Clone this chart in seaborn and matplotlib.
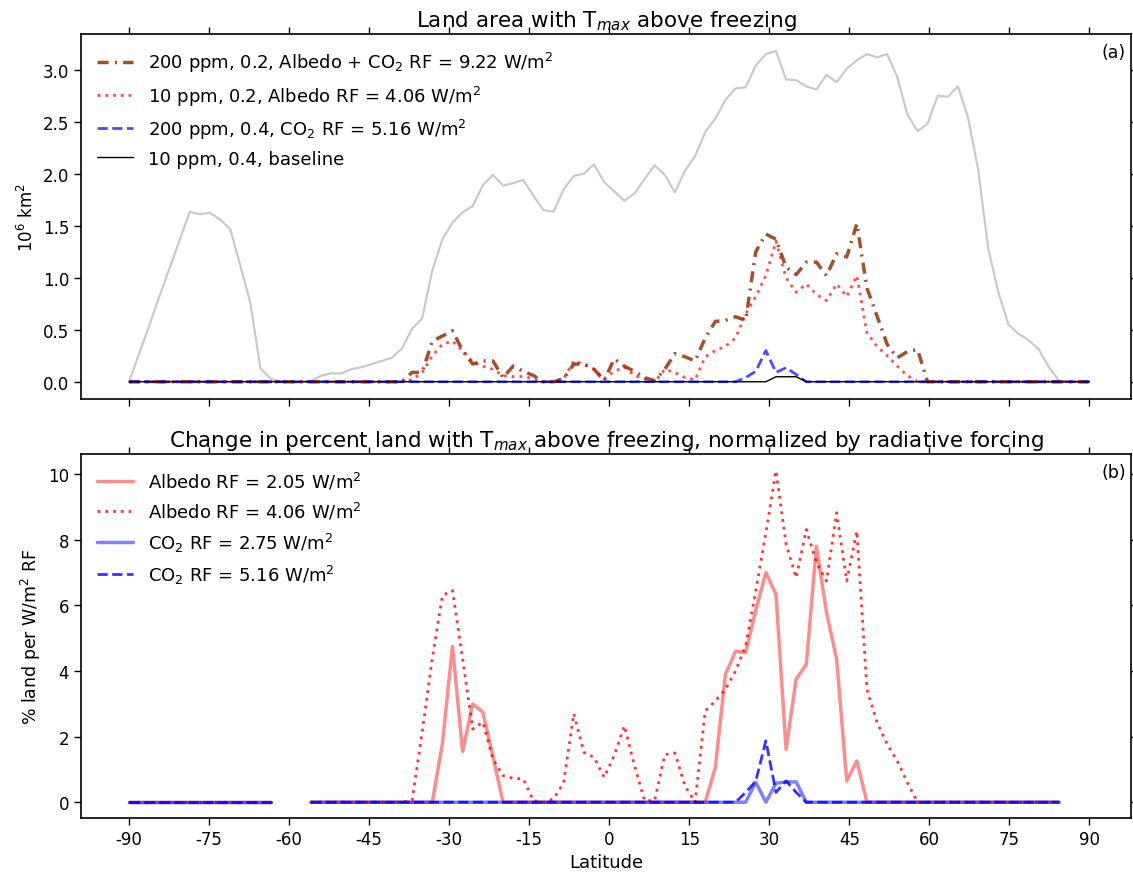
import numpy as np
import pandas as pd
import matplotlib
matplotlib.use("Agg")
import matplotlib.pyplot as plt
import seaborn as sns

# latitude grid (96 points, pole to pole)
lat = np.linspace(-90, 90, 96)

# land area (10^6 km^2), grey reference curve
land_area = [0.0, 0.27, 0.54, 0.82, 1.09, 1.36, 1.635, 1.61, 1.625, 1.56,
             1.47, 1.12, 0.76, 0.13, 0.03, 0.0, 0.0, 0.0, 0.01, 0.058,
             0.08, 0.08, 0.12, 0.14, 0.17, 0.20, 0.23, 0.32, 0.51, 0.61,
             1.07, 1.37, 1.53, 1.63, 1.69, 1.89, 1.99, 1.885, 1.91, 1.94,
             1.79, 1.65, 1.635, 1.85, 1.98, 2.00, 2.09, 1.92, 1.83, 1.74,
             1.81, 1.95, 2.08, 1.99, 1.82, 2.03, 2.17, 2.40, 2.53, 2.71,
             2.82, 2.83, 3.04, 3.15, 3.18, 2.905, 2.90, 2.84, 2.81, 2.95,
             2.88, 3.01, 3.09, 3.15, 3.12, 3.15, 2.93, 2.57, 2.41, 2.48,
             2.75, 2.74, 2.84, 2.54, 2.04, 1.28, 0.86, 0.55, 0.46, 0.40,
             0.31, 0.14, 0.01, 0.0, 0.0, 0.0]

# land area with Tmax above freezing (10^6 km^2); index -> value, zero elsewhere
area_200_02 = {28: 0.09, 29: 0.09, 30: 0.39, 31: 0.44, 32: 0.49, 33: 0.30, 34: 0.17,
               35: 0.20, 36: 0.20, 37: 0.04, 38: 0.15, 39: 0.10, 40: 0.06, 43: 0.03,
               44: 0.17, 45: 0.17, 46: 0.12, 47: 0.01, 48: 0.22, 49: 0.15, 50: 0.10,
               51: 0.04, 52: 0.01, 53: 0.12, 54: 0.27, 55: 0.24, 56: 0.20, 57: 0.42,
               58: 0.58, 59: 0.59, 60: 0.625, 61: 0.59, 62: 1.25, 63: 1.42, 64: 1.37,
               65: 1.10, 66: 1.03, 67: 1.15, 68: 1.15, 69: 1.02, 70: 1.23, 71: 1.20,
               72: 1.52, 73: 0.90, 74: 0.63, 75: 0.36, 76: 0.23, 77: 0.29, 78: 0.31}
area_10_02 = {28: 0.02, 29: 0.09, 30: 0.25, 31: 0.36, 32: 0.39, 33: 0.30, 34: 0.19,
              35: 0.15, 36: 0.12, 37: 0.06, 38: 0.05, 39: 0.05, 40: 0.03, 43: 0.03,
              44: 0.20, 45: 0.17, 46: 0.12, 47: 0.03, 48: 0.10, 49: 0.14, 50: 0.06,
              51: 0.03, 53: 0.12, 54: 0.09, 55: 0.04, 56: 0.02, 57: 0.24, 58: 0.30,
              59: 0.34, 60: 0.42, 61: 0.65, 62: 0.82, 63: 1.02, 64: 1.35, 65: 1.00,
              66: 0.86, 67: 0.94, 68: 0.84, 69: 0.78, 70: 0.94, 71: 0.82, 72: 1.02,
              73: 0.47, 74: 0.34, 75: 0.25, 76: 0.15, 77: 0.06}
area_200_04 = {61: 0.04, 62: 0.10, 63: 0.30, 64: 0.09, 65: 0.135, 66: 0.07}
area_10_04 = {64: 0.048, 65: 0.048, 66: 0.048}

# percent land per W/m2 RF
pct_alb_205 = {31: 1.78, 32: 4.75, 33: 1.54, 34: 3.0, 35: 2.74, 36: 1.4, 58: 1.06,
               59: 3.9, 60: 4.6, 61: 4.56, 62: 5.85, 63: 7.0, 64: 6.33, 65: 1.61,
               66: 3.75, 67: 4.2, 68: 7.8, 69: 5.78, 70: 4.36, 71: 0.65, 72: 1.26}
pct_alb_406 = {28: 0.05, 29: 2.13, 30: 4.37, 31: 6.3, 32: 6.45, 33: 4.37, 34: 2.23,
               35: 2.44, 36: 1.32, 37: 0.81, 38: 0.73, 39: 0.71, 40: 0.05, 42: 0.1,
               43: 0.6, 44: 2.7, 45: 1.52, 46: 1.37, 47: 0.76, 48: 1.42, 49: 2.33,
               50: 1.12, 51: 0.05, 52: 0.05, 53: 1.45, 54: 1.5, 55: 0.5, 57: 2.78,
               58: 3.09, 59: 3.44, 60: 4.0, 61: 4.76, 62: 6.44, 63: 8.2, 64: 10.1,
               65: 7.86, 66: 6.84, 67: 8.31, 68: 7.3, 69: 6.74, 70: 8.82, 71: 6.74,
               72: 8.26, 73: 3.44, 74: 2.43, 75: 1.77, 76: 1.26, 77: 0.6}
pct_co2_275 = {62: 0.61, 64: 0.58, 65: 0.62, 66: 0.62}
pct_co2_516 = {61: 0.3, 62: 0.64, 63: 1.87, 64: 0.3, 65: 0.65, 66: 0.3}

# segments of the bottom panel where land exists (no land -> gap)
segments = [(0, 14), (18, 92)]
xticks = list(range(-90, 91, 15))


def full(d):
    v = np.zeros(len(lat))
    for k, val in d.items():
        v[k] = val
    return v


sns.set_style("ticks")
plt.rcParams['font.family'] = ['DejaVu Sans']
plt.rcParams['mathtext.fontset'] = 'dejavusans'
for key in ['text.color', 'axes.labelcolor', 'xtick.color', 'ytick.color', 'axes.edgecolor']:
    plt.rcParams[key] = 'black'

fig = plt.figure(figsize=(11.33, 8.78), dpi=100)
ax1 = fig.add_axes([0.0715, 0.5444, 0.9267, 0.4157])
ax2 = fig.add_axes([0.0715, 0.0672, 0.9267, 0.4146])

# ---- panel (a)
sns.lineplot(x=lat, y=land_area, ax=ax1, color='0.78', lw=1.5)
sns.lineplot(x=lat, y=full(area_200_02), ax=ax1, color='sienna', lw=2.5,
             linestyle=(0, (3.2, 1.8, 0.6, 1.8)),
             label='200 ppm, 0.2, Albedo + CO$_2$ RF = 9.22 W/m$^2$')
sns.lineplot(x=lat, y=full(area_10_02), ax=ax1, color='red', alpha=0.7, lw=2,
             linestyle=(0, (1, 1.8)), label='10 ppm, 0.2, Albedo RF = 4.06 W/m$^2$')
sns.lineplot(x=lat, y=full(area_200_04), ax=ax1, color='blue', alpha=0.7, lw=2,
             linestyle='--', label='200 ppm, 0.4, CO$_2$ RF = 5.16 W/m$^2$')
sns.lineplot(x=lat, y=full(area_10_04), ax=ax1, color='black', lw=1,
             label='10 ppm, 0.4, baseline')
ax1.legend(loc='upper left', frameon=False, fontsize=13)
ax1.set_title('Land area with T$_{max}$ above freezing', fontsize=15.5)
ax1.set_ylabel('10$^6$ km$^2$', fontsize=12)
ax1.set_xlim(-99, 97.8)
ax1.set_ylim(-0.166, 3.343)
ax1.set_xticks(xticks)
ax1.set_xticklabels([])
ax1.set_yticks(np.arange(0, 3.01, 0.5))
ax1.set_yticklabels([f'{t:.1f}' for t in np.arange(0, 3.01, 0.5)])
ax1.text(0.995, 0.975, '(a)', transform=ax1.transAxes, ha='right', va='top', fontsize=12.5)

# ---- panel (b)
series_b = [
    (pct_alb_205, dict(color='red', alpha=0.45, lw=2.5, linestyle='-'), 'Albedo RF = 2.05 W/m$^2$'),
    (pct_alb_406, dict(color='red', alpha=0.8, lw=2, linestyle=(0, (1, 1.8))), 'Albedo RF = 4.06 W/m$^2$'),
    (pct_co2_275, dict(color='blue', alpha=0.5, lw=2.5, linestyle='-'), 'CO$_2$ RF = 2.75 W/m$^2$'),
    (pct_co2_516, dict(color='blue', alpha=0.8, lw=2, linestyle='--'), 'CO$_2$ RF = 5.16 W/m$^2$'),
]
handles = []
for d, style, lab in series_b:
    v = full(d)
    for n, (a, b) in enumerate(segments):
        sns.lineplot(x=lat[a:b + 1], y=v[a:b + 1], ax=ax2, **style)
        if n == 0:
            handles.append(ax2.lines[-1])
ax2.legend(handles, [s[2] for s in series_b], loc='upper left', frameon=False, fontsize=13)
ax2.set_title('Change in percent land with T$_{max}$ above freezing, normalized by radiative forcing',
              fontsize=15.5)
ax2.set_ylabel('% land per W/m$^2$ RF', fontsize=12.5)
ax2.set_xlabel('Latitude', fontsize=13)
ax2.set_xlim(-99, 97.8)
ax2.set_ylim(-0.48, 10.61)
ax2.set_xticks(xticks)
ax2.set_xticklabels([str(t) for t in xticks])
ax2.set_yticks(range(0, 11, 2))
ax2.text(0.995, 0.975, '(b)', transform=ax2.transAxes, ha='right', va='top', fontsize=12.5)

for ax in (ax1, ax2):
    ax.tick_params(direction='out', length=5, width=1, top=True, right=True, labelsize=12)
    for s in ax.spines.values():
        s.set_visible(True)
        s.set_linewidth(1.2)
        s.set_color('black')

fig.savefig('out.png', dpi=100)
